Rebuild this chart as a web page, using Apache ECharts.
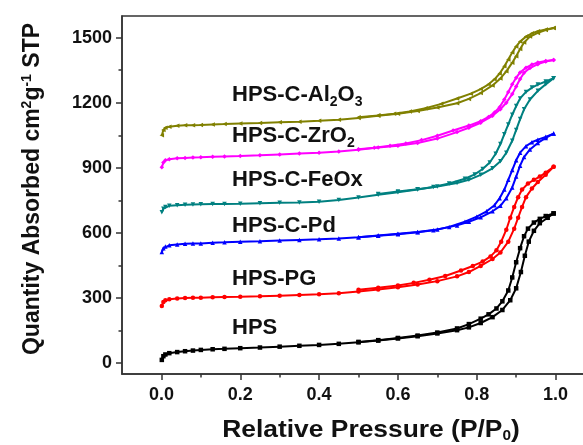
<!DOCTYPE html>
<html>
<head>
<meta charset="utf-8">
<script src="https://cdn.jsdelivr.net/npm/echarts@6/dist/echarts.min.js"></script>
<style>
  html, body { margin: 0; padding: 0; background: #fff; }
  #chart { width: 583px; height: 445px; }
</style>
</head>
<body>
<div id="chart"></div>
<script>
// tick positions
const xTicks = [0, 0.2, 0.4, 0.6, 0.8, 1.0];
const xMinorTicks = [0.1, 0.3, 0.5, 0.7, 0.9];
const yTicks = [0, 300, 600, 900, 1200, 1500];
const yMinorTicks = [150, 450, 750, 1050, 1350];

// isotherms: [P/P0, quantity] -- adsorption and desorption branches
const hpsAds = [[0.001,15],[0.005,32],[0.01,40],[0.02,46],[0.04,51],[0.06,55],[0.08,58],[0.1,61],[0.13,64],[0.16,66],[0.2,69],[0.25,72],[0.3,76],[0.35,80],[0.4,84],[0.45,89],[0.5,96],[0.55,104],[0.6,114],[0.65,124],[0.7,137],[0.75,152],[0.78,165],[0.81,185],[0.84,212],[0.865,245],[0.885,290],[0.9,345],[0.912,420],[0.922,495],[0.932,560],[0.945,610],[0.96,645],[0.98,670],[0.995,690]];
const hpsDes = [[0.995,690],[0.975,678],[0.96,665],[0.945,648],[0.93,620],[0.92,585],[0.91,530],[0.9,465],[0.89,395],[0.88,335],[0.865,285],[0.85,252],[0.83,225],[0.81,205],[0.78,180],[0.75,160],[0.7,141],[0.65,127],[0.6,116],[0.55,106],[0.5,98]];

const pgAds = [[0.001,263],[0.005,282],[0.01,290],[0.02,295],[0.04,298],[0.06,300],[0.08,301],[0.1,302],[0.13,304],[0.16,305],[0.2,306],[0.25,308],[0.3,311],[0.35,314],[0.4,317],[0.45,322],[0.5,330],[0.55,340],[0.6,350],[0.65,362],[0.7,378],[0.75,400],[0.78,420],[0.81,448],[0.84,480],[0.86,510],[0.88,560],[0.895,620],[0.905,670],[0.915,720],[0.925,765],[0.94,805],[0.955,835],[0.975,868],[0.995,905]];
const pgDes = [[0.995,905],[0.975,878],[0.96,860],[0.945,845],[0.93,828],[0.915,800],[0.905,765],[0.895,720],[0.885,670],[0.875,615],[0.862,560],[0.85,520],[0.835,492],[0.815,468],[0.79,448],[0.76,427],[0.72,402],[0.68,384],[0.64,370],[0.6,358],[0.55,347],[0.5,338]];

const pdAds = [[0.001,512],[0.005,530],[0.01,538],[0.02,543],[0.04,547],[0.06,550],[0.08,551],[0.1,552],[0.13,555],[0.16,557],[0.2,560],[0.25,562],[0.3,565],[0.35,568],[0.4,571],[0.45,575],[0.5,580],[0.55,588],[0.6,596],[0.65,604],[0.7,616],[0.75,635],[0.78,652],[0.81,672],[0.84,700],[0.86,725],[0.875,760],[0.89,810],[0.9,860],[0.91,910],[0.92,950],[0.935,985],[0.955,1015],[0.975,1038],[0.995,1058]];
const pdDes = [[0.995,1058],[0.975,1043],[0.955,1030],[0.94,1018],[0.925,1000],[0.91,970],[0.9,935],[0.89,890],[0.88,845],[0.87,800],[0.858,760],[0.845,728],[0.825,700],[0.8,675],[0.77,652],[0.73,628],[0.69,612],[0.65,603],[0.6,594],[0.55,587],[0.5,580]];

const feoxAds = [[0.001,695],[0.005,712],[0.01,720],[0.02,725],[0.04,728],[0.06,730],[0.08,731],[0.1,732],[0.13,733],[0.16,734],[0.2,735],[0.25,737],[0.3,739],[0.35,741],[0.4,744],[0.45,752],[0.5,763],[0.55,776],[0.6,788],[0.65,800],[0.7,814],[0.75,830],[0.78,845],[0.81,868],[0.84,898],[0.86,930],[0.875,970],[0.89,1025],[0.9,1075],[0.91,1125],[0.92,1170],[0.935,1215],[0.955,1255],[0.975,1285],[0.995,1313]];
const feoxDes = [[0.995,1313],[0.975,1298],[0.955,1284],[0.94,1270],[0.925,1250],[0.91,1220],[0.9,1185],[0.89,1145],[0.88,1100],[0.87,1055],[0.86,1010],[0.848,965],[0.833,925],[0.815,895],[0.795,870],[0.77,850],[0.73,828],[0.69,812],[0.65,802],[0.6,791],[0.55,780]];

const zro2Ads = [[0.001,903],[0.005,925],[0.01,935],[0.02,940],[0.04,944],[0.06,946],[0.08,948],[0.1,949],[0.13,951],[0.16,953],[0.2,955],[0.25,958],[0.3,962],[0.35,966],[0.4,970],[0.45,976],[0.5,984],[0.55,994],[0.6,1002],[0.65,1015],[0.7,1035],[0.75,1065],[0.78,1085],[0.81,1108],[0.84,1140],[0.86,1170],[0.875,1200],[0.89,1240],[0.9,1275],[0.91,1310],[0.92,1338],[0.935,1360],[0.955,1378],[0.975,1390],[0.995,1397]];
const zro2Des = [[0.995,1397],[0.975,1393],[0.955,1386],[0.94,1376],[0.925,1362],[0.91,1340],[0.9,1315],[0.89,1285],[0.88,1250],[0.87,1215],[0.858,1180],[0.845,1155],[0.83,1135],[0.81,1115],[0.78,1095],[0.74,1072],[0.7,1048],[0.66,1028],[0.62,1012],[0.58,1002],[0.54,993],[0.5,986]];

const al2o3Ads = [[0.001,1050],[0.005,1075],[0.01,1085],[0.02,1090],[0.04,1094],[0.06,1096],[0.08,1097],[0.1,1098],[0.13,1100],[0.16,1102],[0.2,1105],[0.25,1107],[0.3,1110],[0.35,1113],[0.4,1117],[0.45,1122],[0.5,1130],[0.55,1140],[0.6,1150],[0.65,1162],[0.7,1178],[0.75,1198],[0.78,1218],[0.81,1245],[0.84,1280],[0.86,1312],[0.875,1345],[0.89,1385],[0.9,1415],[0.91,1448],[0.92,1478],[0.935,1505],[0.955,1522],[0.975,1535],[0.995,1545]];
const al2o3Des = [[0.995,1545],[0.975,1538],[0.955,1530],[0.94,1520],[0.925,1505],[0.91,1482],[0.9,1460],[0.89,1432],[0.88,1400],[0.87,1368],[0.858,1335],[0.845,1308],[0.83,1285],[0.81,1263],[0.785,1242],[0.75,1220],[0.71,1195],[0.67,1175],[0.63,1160],[0.59,1150],[0.55,1142],[0.5,1133]];

const samples = [
  { name: 'HPS', ads: hpsAds, des: hpsDes, color: '#000000', symbol: 'rect' },
  { name: 'HPS-PG', ads: pgAds, des: pgDes, color: '#ff0000', symbol: 'circle' },
  { name: 'HPS-C-Pd', ads: pdAds, des: pdDes, color: '#0000ff', symbol: 'triangle' },
  { name: 'HPS-C-FeOx', ads: feoxAds, des: feoxDes, color: '#008080', symbol: 'path://M0,0L10,0L5,9Z' },
  { name: 'HPS-C-ZrO2', ads: zro2Ads, des: zro2Des, color: '#ff00ff', symbol: 'diamond' },
  { name: 'HPS-C-Al2O3', ads: al2o3Ads, des: al2o3Des, color: '#808000', symbol: 'path://M0,5L9,0L9,10Z' }
];

// labels next to the curves: [rich text, left x, centre y]
const curveLabels = [
  ['HPS-C-Al{s|2}O{s|3}', 232, 95],
  ['HPS-C-ZrO{s|2}', 232, 136],
  ['HPS-C-FeOx', 232, 180],
  ['HPS-C-Pd', 232, 226],
  ['HPS-PG', 232, 279],
  ['HPS', 232, 328]
];

const FONT = '"Liberation Sans", Arial, sans-serif';
const chart = echarts.init(document.getElementById('chart'));

const series = [];
samples.forEach(s => {
  [s.ads, s.des].forEach(branch => {
    series.push({
      name: s.name,
      type: 'line',
      data: branch,
      symbol: s.symbol,
      symbolSize: 4.5,
      showSymbol: true,
      itemStyle: { color: s.color },
      lineStyle: { color: s.color, width: 2 },
      animation: false
    });
  });
});

const axisLine = { show: true, onZero: false, lineStyle: { color: '#333', width: 1.5 } };
const tickLine = { color: '#333', width: 1.5 };

const option = {
  backgroundColor: '#fff',
  grid: {
    left: 122, top: 16, width: 473, height: 358,
    outerBoundsMode: 'none', containLabel: false,
    show: true, borderColor: '#333', borderWidth: 1.5
  },
  xAxis: [
    {
      type: 'value', min: -0.1, max: 1.1,
      axisLine: axisLine,
      axisTick: { show: true, inside: false, length: 6, customValues: xTicks, lineStyle: tickLine },
      axisLabel: {
        customValues: xTicks, margin: 12,
        fontFamily: FONT, fontWeight: 'bold', fontSize: 18, color: '#111',
        formatter: v => v.toFixed(1)
      },
      splitLine: { show: false }
    },
    {
      type: 'value', min: -0.1, max: 1.1, position: 'bottom',
      axisLine: { show: false, onZero: false },
      axisTick: { show: true, inside: false, length: 3.5, customValues: xMinorTicks, lineStyle: tickLine },
      axisLabel: { show: false },
      splitLine: { show: false }
    }
  ],
  yAxis: [
    {
      type: 'value', min: -50, max: 1600,
      axisLine: axisLine,
      axisTick: { show: true, inside: false, length: 6, customValues: yTicks, lineStyle: tickLine },
      axisLabel: {
        customValues: yTicks, margin: 10,
        fontFamily: FONT, fontWeight: 'bold', fontSize: 18, color: '#111',
        formatter: v => String(v)
      },
      splitLine: { show: false }
    },
    {
      type: 'value', min: -50, max: 1600, position: 'left',
      axisLine: { show: false, onZero: false },
      axisTick: { show: true, inside: false, length: 3.5, customValues: yMinorTicks, lineStyle: tickLine },
      axisLabel: { show: false },
      splitLine: { show: false }
    }
  ],
  series: series,
  graphic: [
    {
      type: 'text', x: 371, y: 430, scaleX: 1.1,
      style: {
        text: 'Relative Pressure (P/P{s|0})',
        fill: '#111', font: 'bold 24px ' + FONT,
        align: 'center', verticalAlign: 'middle',
        rich: { s: { fontSize: 14, fontWeight: 'bold', fontFamily: FONT, fill: '#111', padding: [12, 0, 0, 0] } }
      }
    },
    {
      type: 'text', x: 33, y: 189, rotation: Math.PI / 2,
      style: {
        text: 'Quantity Absorbed cm{p|2}g{p|-1} STP',
        fill: '#111', font: 'bold 23px ' + FONT,
        align: 'center', verticalAlign: 'middle',
        rich: { p: { fontSize: 14, fontWeight: 'bold', fontFamily: FONT, fill: '#111', padding: [0, 0, 12, 0] } }
      }
    }
  ].concat(curveLabels.map(l => ({
    type: 'text', x: l[1], y: l[2],
    style: {
      text: l[0],
      fill: '#111', font: 'bold 22px ' + FONT,
      align: 'left', verticalAlign: 'middle',
      rich: { s: { fontSize: 14, fontWeight: 'bold', fontFamily: FONT, fill: '#111', padding: [14, 0, 0, 0] } }
    }
  })))
};

chart.setOption(option);
</script>
</body>
</html>
